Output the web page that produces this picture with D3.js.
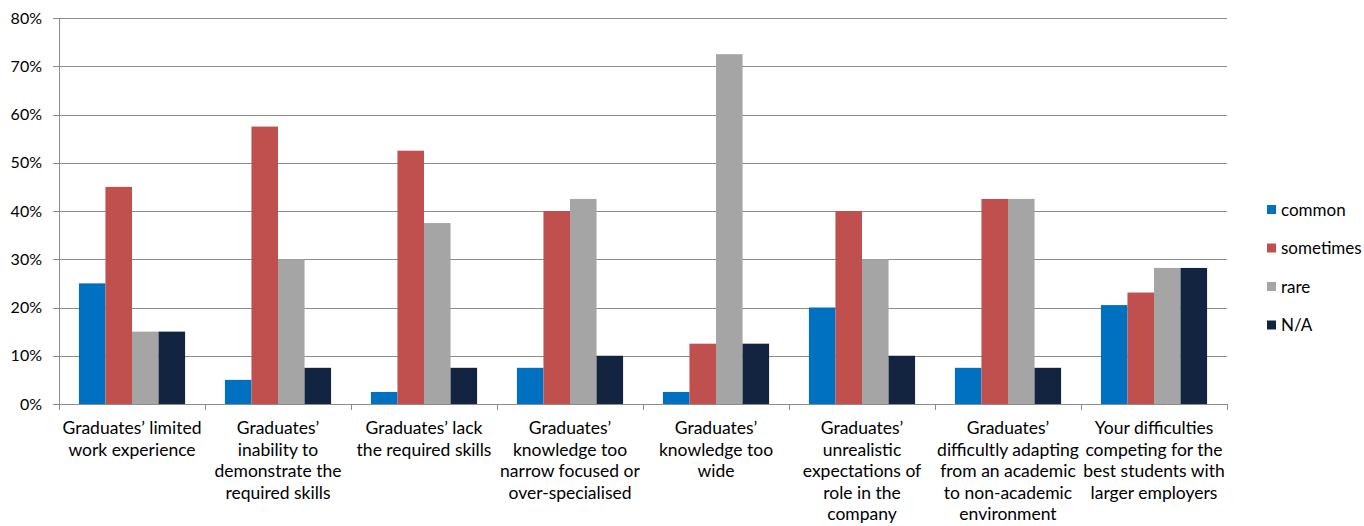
<!DOCTYPE html>
<html><head><meta charset="utf-8">
<script src="https://cdn.jsdelivr.net/npm/d3@7"></script>
<style>body{margin:0;background:#fff;} svg{display:block;} text{font-family:Lato,"Open Sans",sans-serif;fill:#000;}</style>
</head><body>
<svg id="c" width="1364" height="526"></svg>
<script>
const categories = [
  "Graduates’ limited|work experience",
  "Graduates’|inability to|demonstrate the|required skills",
  "Graduates’ lack|the required skills",
  "Graduates’|knowledge too|narrow focused or|over-specialised",
  "Graduates’|knowledge too|wide",
  "Graduates’|unrealistic|expectations of|role in the|company",
  "Graduates’|difficultly adapting|from an academic|to non-academic|environment",
  "Your difficulties|competing for the|best students with|larger employers"
];
const seriesNames = ["common", "sometimes", "rare", "N/A"];
const common    = [25, 5, 2.5, 7.5, 2.5, 20, 7.5, 20.5];
const sometimes = [45, 57.5, 52.5, 40, 12.5, 40, 42.5, 23.1];
const rare      = [15, 30, 37.5, 42.5, 72.5, 30, 42.5, 28.2];
const na        = [15, 7.5, 7.5, 10, 12.5, 10, 7.5, 28.2];
const yTicks = [0, 10, 20, 30, 40, 50, 60, 70, 80];
const colors = ["#0070C0", "#C0504D", "#A5A5A5", "#12243F"];

const series = [common, sometimes, rare, na];
const svg = d3.select("#c");
const L = 59, R = 1227, T = 18, B = 404;
const x = d3.scaleBand().domain(d3.range(categories.length)).range([L, R]).paddingInner(0).paddingOuter(0);
const x1 = d3.scaleBand().domain(d3.range(4)).range([0, x.bandwidth()]).paddingOuter(0.75).paddingInner(0);
const y = d3.scaleLinear().domain([0, 80]).range([B, T]);

// gridlines
svg.append("g").selectAll("line").data(yTicks).join("line")
  .attr("x1", L - 6).attr("x2", R).attr("y1", d => Math.round(y(d)) + 0.5).attr("y2", d => Math.round(y(d)) + 0.5)
  .attr("stroke", "#8c8c8c").attr("stroke-width", 1);
// y labels
svg.append("g").selectAll("text").data(yTicks).join("text")
  .attr("x", 42).attr("y", d => y(d)).attr("dy", "0.35em").attr("text-anchor", "end")
  .style("font-size", "16px").text(d => d + "%");

// bars
const g = svg.append("g");
series.forEach((vals, si) => {
  g.append("g").selectAll("rect").data(vals).join("rect")
    .attr("x", (d, i) => x(i) + x1(si)).attr("width", x1.bandwidth())
    .attr("y", d => y(d)).attr("height", d => y(0) - y(d)).attr("fill", colors[si]);
});

// axes lines
svg.append("line").attr("x1", L + 0.5).attr("x2", L + 0.5).attr("y1", T).attr("y2", B).attr("stroke", "#8c8c8c");
svg.append("line").attr("x1", L).attr("x2", R + 1).attr("y1", B + 0.5).attr("y2", B + 0.5).attr("stroke", "#8c8c8c");
const bounds = d3.range(categories.length + 1).map(i => i < categories.length ? x(i) : R);
svg.append("g").selectAll("line").data(bounds).join("line")
  .attr("x1", d => Math.round(d) + 0.5).attr("x2", d => Math.round(d) + 0.5).attr("y1", B).attr("y2", B + 6)
  .attr("stroke", "#8c8c8c");

// x labels
const xl = svg.append("g");
categories.forEach((c, i) => {
  const t = xl.append("text").attr("text-anchor", "middle").style("font-size", "17.5px");
  c.split("|").forEach((ln, j) => {
    t.append("tspan").attr("x", x(i) + x.bandwidth() / 2).attr("y", 434 + j * 21.5).text(ln);
  });
});

// legend
const lg = svg.append("g");
seriesNames.forEach((n, i) => {
  const cy = 210 + i * 38.5;
  lg.append("rect").attr("x", 1267).attr("y", cy - 5).attr("width", 9).attr("height", 9).attr("fill", colors[i]);
  lg.append("text").attr("x", 1281).attr("y", cy).attr("dy", "0.35em").style("font-size", "17px").text(n);
});
</script>
</body></html>
